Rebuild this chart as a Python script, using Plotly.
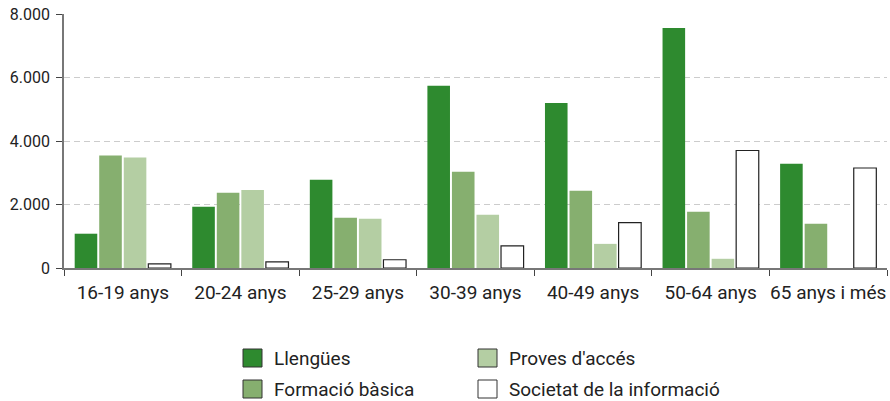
import plotly.graph_objects as go

categories = ["16-19 anys", "20-24 anys", "25-29 anys", "30-39 anys",
              "40-49 anys", "50-64 anys", "65 anys i més"]
llengues = [1080, 1930, 2780, 5740, 5200, 7560, 3280]
formacio_basica = [3540, 2370, 1580, 3030, 2430, 1770, 1390]
proves_acces = [3480, 2460, 1550, 1680, 760, 290, 0]
societat_info = [130, 190, 260, 700, 1430, 3700, 3150]

y_ticks = [0, 2000, 4000, 6000, 8000]
y_tick_labels = ["0", "2.000", "4.000", "6.000", "8.000"]

FONT = "Roboto, 'Noto Sans', sans-serif"

# plot area in pixels (used for placing the hand-made legend)
L, R, T, B = 64, 3, 14, 133
W, H = 890, 401
PW, PH = W - L - R, H - T - B


def px_x(x):
    return (x - L) / PW


def px_y(y):
    return (H - B - y) / PH


fig = go.Figure()
series = [
    ("Llengües", llengues, "#2e8a2f", "#2e8a2f"),
    ("Formació bàsica", formacio_basica, "#86af6f", "#86af6f"),
    ("Proves d'accés", proves_acces, "#b4cea3", "#b4cea3"),
    ("Societat de la informació", societat_info, "#ffffff", "#222222"),
]
for name, vals, fill, edge in series:
    fig.add_trace(go.Bar(
        x=categories, y=vals, name=name, showlegend=False,
        marker=dict(color=fill, line=dict(color=edge, width=1.2 if fill == "#ffffff" else 0)),
    ))

# legend laid out in two columns, like the original
legend_slots = {
    "Llengües": (243, 358),
    "Proves d'accés": (478, 358),
    "Formació bàsica": (243, 389),
    "Societat de la informació": (478, 389),
}
for name, vals, fill, edge in series:
    sx, sy = legend_slots[name]
    fig.add_shape(type="rect", xref="paper", yref="paper",
                  x0=px_x(sx), x1=px_x(sx + 19), y0=px_y(sy - 9), y1=px_y(sy + 9),
                  fillcolor=fill, line=dict(color="#333333", width=1))
    fig.add_annotation(xref="paper", yref="paper", x=px_x(sx + 30), y=px_y(sy),
                       xanchor="left", yanchor="middle", text=name, showarrow=False,
                       borderpad=0, font=dict(size=19, color="#222222"))

fig.update_layout(
    width=W, height=H,
    margin=dict(l=L, r=R, t=T, b=B),
    paper_bgcolor="white", plot_bgcolor="white",
    font=dict(family=FONT, size=16, color="#222222"),
    barmode="group", bargap=0.165, bargroupgap=0.08,
    showlegend=False,
)
fig.update_xaxes(
    type="category", range=[-0.5, 6.5], automargin=False,
    showline=True, linecolor="#777777", linewidth=1.5,
    ticks="outside", tickson="boundaries", ticklen=6, tickcolor="#444444",
    tickfont=dict(size=19), tickangle=0, showgrid=False, ticklabelstandoff=6,
)
fig.update_yaxes(
    range=[0, 8000], tickvals=y_ticks, ticktext=y_tick_labels, automargin=False,
    showline=True, linecolor="#777777", linewidth=1.5,
    ticks="outside", ticklen=6, tickcolor="#444444",
    showgrid=True, gridcolor="#cccccc", griddash="6px,4px", gridwidth=1.2,
    zeroline=False, tickfont=dict(size=16), ticklabelstandoff=3,
)

# the browser's default body margin would shift the figure by 8px
fig.write_html("out.html", config={"displayModeBar": False},
               post_script="document.body.style.margin='0';")
